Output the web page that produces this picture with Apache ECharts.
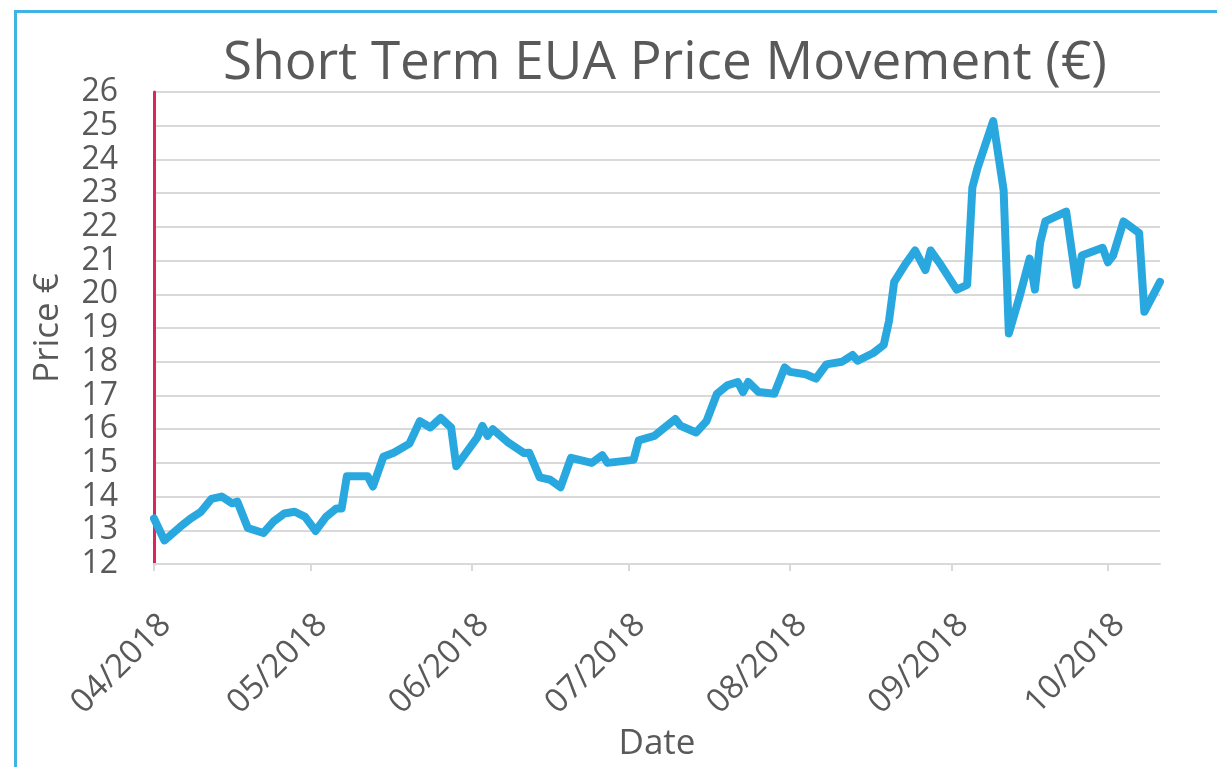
<!DOCTYPE html>
<html>
<head>
<meta charset="utf-8">
<title>Short Term EUA Price Movement</title>
<script src="https://cdn.jsdelivr.net/npm/echarts@6/dist/echarts.min.js"></script>
<style>
  html, body { margin: 0; padding: 0; background: #fff; }
  #chart { width: 1217px; height: 767px; }
</style>
</head>
<body>
<div id="chart"></div>
<script>
// price points (date, €)
const dates = [
  "2018-04-01", "2018-04-03", "2018-04-06", "2018-04-08", "2018-04-10", "2018-04-12",
  "2018-04-14", "2018-04-16", "2018-04-17", "2018-04-19", "2018-04-22", "2018-04-24",
  "2018-04-26", "2018-04-28", "2018-04-30", "2018-05-02", "2018-05-04", "2018-05-06",
  "2018-05-07", "2018-05-08", "2018-05-12", "2018-05-13", "2018-05-15", "2018-05-17",
  "2018-05-20", "2018-05-21", "2018-05-22", "2018-05-24", "2018-05-26", "2018-05-28",
  "2018-05-29", "2018-06-02", "2018-06-03", "2018-06-04", "2018-06-05", "2018-06-08",
  "2018-06-11", "2018-06-12", "2018-06-14", "2018-06-16", "2018-06-18", "2018-06-20",
  "2018-06-24", "2018-06-26", "2018-06-27", "2018-07-02", "2018-07-03", "2018-07-06",
  "2018-07-08", "2018-07-10", "2018-07-11", "2018-07-14", "2018-07-16", "2018-07-18",
  "2018-07-20", "2018-07-22", "2018-07-23", "2018-07-24", "2018-07-26", "2018-07-29",
  "2018-07-31", "2018-08-01", "2018-08-04", "2018-08-06", "2018-08-08", "2018-08-11",
  "2018-08-13", "2018-08-14", "2018-08-17", "2018-08-19", "2018-08-20", "2018-08-21",
  "2018-08-23", "2018-08-25", "2018-08-27", "2018-08-28", "2018-08-30", "2018-09-02",
  "2018-09-04", "2018-09-05", "2018-09-06", "2018-09-09", "2018-09-11", "2018-09-12",
  "2018-09-14", "2018-09-16", "2018-09-17", "2018-09-18", "2018-09-19", "2018-09-23",
  "2018-09-25", "2018-09-26", "2018-09-30", "2018-10-01", "2018-10-02", "2018-10-04",
  "2018-10-07", "2018-10-08", "2018-10-11"
];
const prices = [
  13.35, 12.70, 13.10, 13.35, 13.55, 13.93,
  14.00, 13.80, 13.85, 13.07, 12.92, 13.27,
  13.50, 13.55, 13.40, 12.98, 13.40, 13.65,
  13.65, 14.60, 14.60, 14.30, 15.18, 15.30,
  15.57, 15.90, 16.24, 16.05, 16.33, 16.05,
  14.90, 15.75, 16.10, 15.80, 16.00, 15.60,
  15.29, 15.30, 14.57, 14.50, 14.28, 15.15,
  15.00, 15.23, 15.00, 15.09, 15.67, 15.80,
  16.05, 16.30, 16.10, 15.90, 16.24, 17.05,
  17.30, 17.40, 17.10, 17.40, 17.10, 17.05,
  17.83, 17.70, 17.63, 17.50, 17.92, 18.00,
  18.20, 18.03, 18.26, 18.50, 19.20, 20.37,
  20.86, 21.30, 20.72, 21.30, 20.86, 20.14,
  20.28, 23.17, 23.75, 25.14, 23.08, 18.84,
  19.90, 21.06, 20.14, 21.53, 22.16, 22.45,
  20.28, 21.15, 21.38, 20.95, 21.15, 22.16,
  21.82, 19.48, 20.37
];
const xMin = "2018-04-01";
const xMax = "2018-10-11";
const yMin = 12;
const yMax = 26;

const textColor = "#595959";
const font = "'Open Sans', 'DejaVu Sans', sans-serif";

const chart = echarts.init(document.getElementById("chart"));

chart.setOption({
  backgroundColor: "#fff",
  animation: false,
  title: {
    text: "Short Term EUA Price Movement (€)",
    left: 660,
    textAlign: "center",
    top: 32,
    textStyle: {
      fontFamily: font,
      fontSize: 53,
      fontWeight: "normal",
      color: textColor,
    },
  },
  grid: {
    left: 154,
    right: 57,
    top: 92,
    bottom: 190,
  },
  xAxis: {
    type: "time",
    min: xMin,
    max: xMax,
    minInterval: 28 * 24 * 3600 * 1000,
    maxInterval: 31 * 24 * 3600 * 1000,
    name: "Date",
    nameLocation: "middle",
    nameGap: 150,
    nameTextStyle: {
      fontFamily: font,
      fontSize: 35,
      color: textColor,
    },
    axisLine: {
      show: true,
      lineStyle: { color: "#d9d9d9", width: 2 },
    },
    axisTick: {
      show: true,
      length: 7,
      lineStyle: { color: "#d9d9d9", width: 2 },
    },
    splitLine: { show: false },
    axisLabel: {
      rotate: 45,
      align: "right",
      verticalAlign: "top",
      margin: 44,
      fontFamily: font,
      fontSize: 33,
      color: textColor,
      hideOverlap: false,
      formatter: function (val) {
        const d = new Date(val);
        const m = String(d.getMonth() + 1).padStart(2, "0");
        return m + "/" + d.getFullYear();
      },
    },
  },
  yAxis: {
    type: "value",
    min: yMin,
    max: yMax,
    interval: 1,
    name: "Price €",
    nameLocation: "middle",
    nameRotate: 90,
    nameGap: 88,
    nameTextStyle: {
      fontFamily: font,
      fontSize: 35,
      color: textColor,
    },
    axisLine: {
      show: true,
      lineStyle: { color: "#d6285a", width: 3 },
    },
    axisTick: { show: false },
    axisLabel: {
      margin: 36,
      fontFamily: font,
      fontSize: 32,
      color: textColor,
      showMinLabel: true,
      showMaxLabel: true,
    },
    splitLine: {
      lineStyle: { color: "#d9d9d9", width: 2 },
    },
  },
  series: [
    {
      type: "line",
      data: dates.map((d, i) => [d, prices[i]]),
      showSymbol: false,
      symbol: "none",
      lineStyle: {
        color: "#29a8e0",
        width: 8,
        join: "round",
        cap: "round",
      },
      z: 3,
    },
  ],
  graphic: [
    {
      type: "rect",
      left: 13,
      top: 9,
      shape: { width: 1230, height: 757 },
      style: { fill: "none", stroke: "#41b2e4", lineWidth: 3 },
      silent: true,
    },
  ],
});
</script>
</body>
</html>
